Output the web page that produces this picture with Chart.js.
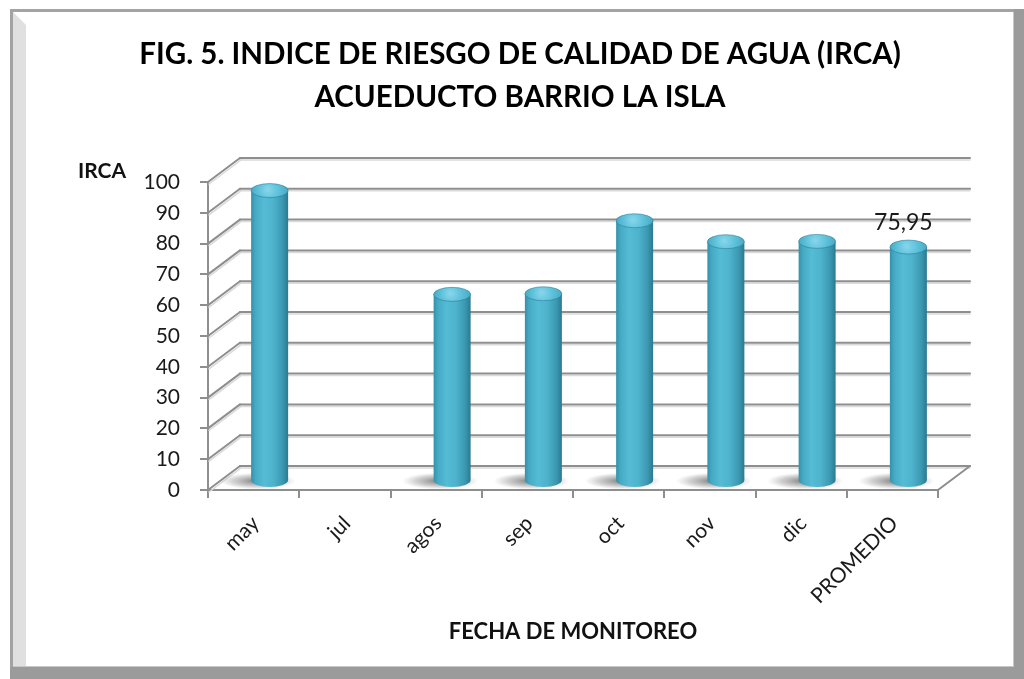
<!DOCTYPE html>
<html>
<head>
<meta charset="utf-8">
<script src="https://cdn.jsdelivr.net/npm/chart.js@4.4.1/dist/chart.umd.min.js"></script>
<style>
  html, body { margin: 0; padding: 0; background: #fff; }
  #wrap { width: 1024px; height: 679px; }
</style>
</head>
<body>
<div id="wrap"><canvas id="c" width="1024" height="679"></canvas></div>
<script>
// Monitoring dates and IRCA values (jul has no sample)
const months = ['may', 'jul', 'agos', 'sep', 'oct', 'nov', 'dic', 'PROMEDIO'];
const irca = [94.3, null, 60.6, 60.8, 84.5, 77.7, 77.8, 75.95];
const yTicks = [0, 10, 20, 30, 40, 50, 60, 70, 80, 90, 100];
const labeledBars = ['PROMEDIO'];
const titleLines = ['FIG. 5. INDICE DE RIESGO DE CALIDAD DE AGUA (IRCA)', 'ACUEDUCTO BARRIO LA ISLA'];
const yTitle = 'IRCA';
const xTitle = 'FECHA DE MONITOREO';

// 3D depth of the plot box (back wall is shifted right/up)
const DEPTH_X = 32;
const DEPTH_Y = -24;
// cylinders stand a little in front of mid-depth
const BAR_DX = 16;
const BAR_DY = -9;
const GRID = '#8e8e8e';
const FONT = 'Lato, "Open Sans", sans-serif';

const framePlugin = {
  id: 'frame',
  beforeDraw(chart) {
    const ctx = chart.ctx;
    const W = chart.width, H = chart.height;
    ctx.save();
    ctx.fillStyle = '#ffffff';
    ctx.fillRect(0, 0, W, H);
    // outer line
    ctx.fillStyle = '#a3a3a3';
    ctx.fillRect(10, 9, W - 10, 3);
    ctx.fillRect(10, 9, 3, H - 9);
    // left bevel
    ctx.fillStyle = '#e0e0e0';
    ctx.beginPath();
    ctx.moveTo(13, 12);
    ctx.lineTo(26, 25);
    ctx.lineTo(26, H - 12);
    ctx.lineTo(13, H - 12);
    ctx.closePath();
    ctx.fill();
    // right and bottom bands
    ctx.fillStyle = '#9b9b9b';
    ctx.fillRect(W - 10, 9, 10, H - 9);
    ctx.fillRect(10, H - 12, W - 10, 12);
    ctx.fillStyle = '#c8c8c8';
    ctx.fillRect(W - 11, 12, 1, H - 24);
    ctx.fillRect(13, H - 13, W - 24, 1);
    ctx.restore();
  }
};

const wallPlugin = {
  id: 'wall',
  beforeDatasetsDraw(chart) {
    const ctx = chart.ctx;
    const ys = chart.scales.y;
    const ca = chart.chartArea;
    ctx.save();
    ctx.lineCap = 'round';
    const seg = (x1, y1, x2, y2, color, lw) => {
      ctx.strokeStyle = color;
      ctx.lineWidth = lw;
      ctx.beginPath();
      ctx.moveTo(x1, y1);
      ctx.lineTo(x2, y2);
      ctx.stroke();
    };
    yTicks.forEach(v => {
      const py = ys.getPixelForValue(v);
      // soft shadow under each line
      seg(ca.left + 1, py + 2, ca.left + DEPTH_X + 1, py + DEPTH_Y + 2, '#dadada', 1.5);
      seg(ca.left + DEPTH_X, py + DEPTH_Y + 2, ca.right + DEPTH_X, py + DEPTH_Y + 2, '#dadada', 1.5);
      seg(ca.left, py, ca.left + DEPTH_X, py + DEPTH_Y, GRID, 2);
      seg(ca.left + DEPTH_X, py + DEPTH_Y, ca.right + DEPTH_X, py + DEPTH_Y, GRID, 2);
    });
    // right edge of the floor
    const y0 = ys.getPixelForValue(0);
    seg(ca.right, y0, ca.right + DEPTH_X, y0 + DEPTH_Y, GRID, 2);
    ctx.restore();
  }
};

const cylinderPlugin = {
  id: 'cylinders',
  afterDatasetsDraw(chart) {
    const ctx = chart.ctx;
    const meta = chart.getDatasetMeta(0);
    ctx.save();
    meta.data.forEach((bar, i) => {
      const v = irca[i];
      if (v === null || v === undefined) return;
      const cx = bar.x + BAR_DX;
      const top = bar.y + BAR_DY;
      const bottom = bar.base + BAR_DY;
      const rx = bar.width / 2;
      const ry = 7;

      // floor shadow, falling to the left
      ctx.save();
      ctx.translate(cx - 12, bottom + 1);
      ctx.scale(1, 0.22);
      const sh = ctx.createRadialGradient(0, 0, 4, 0, 0, 38);
      sh.addColorStop(0, 'rgba(60,60,60,0.6)');
      sh.addColorStop(0.6, 'rgba(90,90,90,0.28)');
      sh.addColorStop(1, 'rgba(120,120,120,0)');
      ctx.fillStyle = sh;
      ctx.beginPath();
      ctx.arc(0, 0, 38, 0, Math.PI * 2);
      ctx.fill();
      ctx.restore();

      // body
      const g = ctx.createLinearGradient(cx - rx, 0, cx + rx, 0);
      g.addColorStop(0, '#3490aa');
      g.addColorStop(0.12, '#46aac4');
      g.addColorStop(0.35, '#55bcd6');
      g.addColorStop(0.6, '#4eb3cd');
      g.addColorStop(0.85, '#3b98b1');
      g.addColorStop(1, '#2a7a90');
      ctx.fillStyle = g;
      ctx.beginPath();
      ctx.moveTo(cx - rx, top);
      ctx.lineTo(cx - rx, bottom);
      ctx.ellipse(cx, bottom, rx, ry, 0, Math.PI, 0, true);
      ctx.lineTo(cx + rx, top);
      ctx.closePath();
      ctx.fill();

      // top cap
      const tg = ctx.createRadialGradient(cx - 2, top - 1, 1, cx, top, rx);
      tg.addColorStop(0, '#84d5ea');
      tg.addColorStop(0.5, '#5fc2db');
      tg.addColorStop(1, '#48aac4');
      ctx.fillStyle = tg;
      ctx.beginPath();
      ctx.ellipse(cx, top, rx, ry, 0, 0, Math.PI * 2);
      ctx.fill();
      ctx.strokeStyle = 'rgba(40,120,145,0.55)';
      ctx.lineWidth = 1;
      ctx.stroke();

      // value label
      if (labeledBars.includes(months[i])) {
        ctx.fillStyle = '#1a1a1a';
        ctx.font = '23px ' + FONT;
        ctx.textAlign = 'center';
        ctx.textBaseline = 'middle';
        ctx.fillText(v.toFixed(2).replace('.', ','), cx - 5, top - ry - 17);
      }
    });

    // axis caption at the top of the value axis
    ctx.fillStyle = '#111';
    ctx.font = 'bold 21px ' + FONT;
    ctx.textAlign = 'left';
    ctx.textBaseline = 'middle';
    ctx.fillText(yTitle, 78, 171);
    ctx.restore();
  }
};

function draw() {
  new Chart(document.getElementById('c'), {
    type: 'bar',
    data: {
      labels: months,
      datasets: [{
        label: 'IRCA',
        data: irca,
        backgroundColor: 'rgba(0,0,0,0)',
        borderWidth: 0,
        barThickness: 37
      }]
    },
    options: {
      responsive: false,
      animation: false,
      devicePixelRatio: 1,
      layout: { padding: { left: 102, right: 86, top: 0, bottom: 0 } },
      plugins: {
        legend: { display: false },
        tooltip: { enabled: false },
        title: {
          display: true,
          text: titleLines,
          color: '#000',
          font: { family: FONT, size: 29.5, weight: 'bold', lineHeight: 43 / 29.5 },
          padding: { top: 33, bottom: 63 }
        }
      },
      scales: {
        x: {
          offset: true,
          grid: { display: true, offset: true, drawOnChartArea: false, drawTicks: true, tickLength: 8, color: GRID, lineWidth: 2 },
          border: { display: true, color: GRID, width: 2 },
          ticks: {
            autoSkip: false, minRotation: 45, maxRotation: 45, padding: 13, labelOffset: 2,
            color: '#1a1a1a', font: { family: FONT, size: 21 }
          },
          title: {
            display: true, text: xTitle, color: '#111',
            font: { family: FONT, size: 22, weight: 'bold', lineHeight: 1.2 },
            padding: { top: 0, bottom: 34 }
          },
          afterFit(scale) {
            scale.height = 189;
            scale.paddingLeft = 0; scale.paddingRight = 0; scale.paddingTop = 0; scale.paddingBottom = 0;
          }
        },
        y: {
          min: 0, max: 100,
          afterBuildTicks(scale) { scale.ticks = yTicks.map(v => ({ value: v })); },
          grid: { display: true, drawOnChartArea: false, drawTicks: true, tickLength: 8, color: GRID, lineWidth: 2 },
          border: { display: true, color: GRID, width: 2 },
          ticks: { padding: 20, color: '#1a1a1a', font: { family: FONT, size: 21 } },
          afterFit(scale) {
            scale.width = 106;
            scale.paddingLeft = 0; scale.paddingRight = 0; scale.paddingTop = 0; scale.paddingBottom = 0;
          }
        }
      }
    },
    plugins: [framePlugin, wallPlugin, cylinderPlugin]
  });
}

const fontsReady = document.fonts && document.fonts.load
  ? Promise.all([document.fonts.load('bold 28px Lato'), document.fonts.load('21px Lato')]).catch(() => {})
  : Promise.resolve();
fontsReady.then(draw);
</script>
</body>
</html>
